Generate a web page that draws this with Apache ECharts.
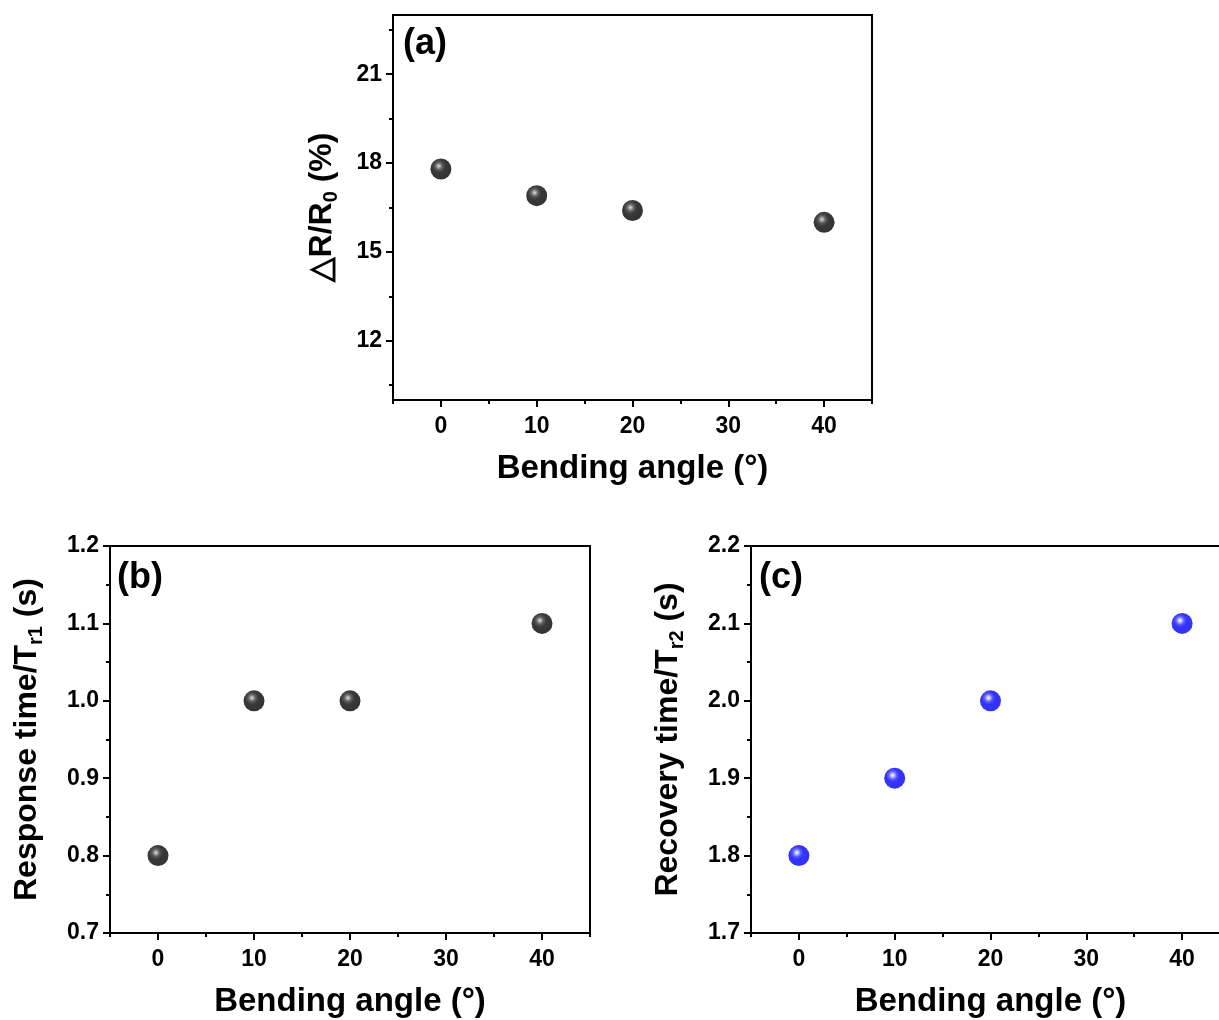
<!DOCTYPE html>
<html>
<head>
<meta charset="utf-8">
<script src="https://cdn.jsdelivr.net/npm/echarts@6/dist/echarts.min.js"></script>
<style>
html, body { margin: 0; padding: 0; background: #fff; }
#main { width: 1219px; height: 1020px; }
</style>
</head>
<body>
<div id="main"></div>
<script>
// data
var angles = [0, 10, 20, 40];
var sensitivity = [17.8, 16.9, 16.4, 16.0];     // (a) ΔR/R0 (%)
var responseTime = [0.8, 1.0, 1.0, 1.1];        // (b) Tr1 (s)
var recoveryTime = [1.8, 1.9, 2.0, 2.1];        // (c) Tr2 (s)

var xMajor = [0, 10, 20, 30, 40];
var xMinor = [-5, 5, 15, 25, 35, 45];
var yMajorA = [12, 15, 18, 21];
var yMinorA = [10.5, 13.5, 16.5, 19.5, 22.5];
var yMajorB = [0.7, 0.8, 0.9, 1.0, 1.1, 1.2];
var yMinorB = [0.75, 0.85, 0.95, 1.05, 1.15];
var yMajorC = [1.7, 1.8, 1.9, 2.0, 2.1, 2.2];
var yMinorC = [1.75, 1.85, 1.95, 2.05, 2.15];

var myChart = echarts.init(document.getElementById('main'));
var font = '"Liberation Sans", Arial, sans-serif';

function pairs(ys) {
    return angles.map(function (a, i) { return [a, ys[i]]; });
}

var blackBall = {
    type: 'radial', x: 0.4, y: 0.36, r: 0.64,
    colorStops: [
        {offset: 0, color: '#dcdcdc'},
        {offset: 0.1, color: '#999999'},
        {offset: 0.28, color: '#333333'},
        {offset: 0.5, color: '#070707'},
        {offset: 1, color: '#000000'}
    ]
};
var blueBall = {
    type: 'radial', x: 0.4, y: 0.36, r: 0.64,
    colorStops: [
        {offset: 0, color: '#ffffff'},
        {offset: 0.1, color: '#c4c4ff'},
        {offset: 0.3, color: '#3535ff'},
        {offset: 0.5, color: '#0000ff'},
        {offset: 1, color: '#0000ee'}
    ]
};

var titleRich = {
    t: {fontSize: 32, fontWeight: 'bold', fontFamily: font, color: '#000'},
    s: {fontSize: 20, fontWeight: 'bold', fontFamily: font, color: '#000', padding: [18, 0, 0, 0]}
};

function xAxes(grid, name) {
    return [{
        type: 'value', gridIndex: grid, min: -5, max: 45, position: 'bottom',
        name: name, nameLocation: 'middle', nameGap: 52,
        nameTextStyle: {fontSize: 33, fontWeight: 'bold', fontFamily: font, color: '#000'},
        axisLine: {show: true, onZero: false, lineStyle: {color: '#000', width: 2}},
        axisTick: {show: true, length: 7, lineStyle: {color: '#000', width: 2}, customValues: xMajor},
        axisLabel: {show: true, fontSize: 23, fontWeight: 'bold', fontFamily: font, color: '#000', margin: 15, customValues: xMajor},
        splitLine: {show: false}
    }, {
        type: 'value', gridIndex: grid, min: -5, max: 45, position: 'bottom',
        axisLine: {show: false, onZero: false},
        axisTick: {show: true, length: 4, lineStyle: {color: '#000', width: 2}, customValues: xMinor},
        axisLabel: {show: false},
        splitLine: {show: false}
    }];
}

function yAxes(grid, min, max, major, minor, name, gap, digits) {
    return [{
        type: 'value', gridIndex: grid, min: min, max: max, position: 'left',
        name: name, nameLocation: 'middle', nameRotate: 90, nameGap: gap,
        nameTextStyle: {rich: titleRich},
        axisLine: {show: true, onZero: false, lineStyle: {color: '#000', width: 2}},
        axisTick: {show: true, length: 7, lineStyle: {color: '#000', width: 2}, customValues: major},
        axisLabel: {
            show: true, fontSize: 23, fontWeight: 'bold', fontFamily: font, color: '#000', margin: 11,
            customValues: major,
            formatter: function (v) { return v.toFixed(digits); }
        },
        splitLine: {show: false}
    }, {
        type: 'value', gridIndex: grid, min: min, max: max, position: 'left',
        axisLine: {show: false, onZero: false},
        axisTick: {show: true, length: 4, lineStyle: {color: '#000', width: 2}, customValues: minor},
        axisLabel: {show: false},
        splitLine: {show: false}
    }];
}

var gridStyle = {show: true, borderColor: '#000', borderWidth: 2, backgroundColor: '#fff', containLabel: false, outerBoundsMode: 'none'};

option = {
    backgroundColor: '#fff',
    animation: false,
    title: [
        {text: '(a)', left: 403, top: 26, padding: 0, textStyle: {fontSize: 36, fontWeight: 'bold', fontFamily: font, color: '#000'}},
        {text: '(b)', left: 117, top: 560, padding: 0, textStyle: {fontSize: 36, fontWeight: 'bold', fontFamily: font, color: '#000'}},
        {text: '(c)', left: 759, top: 560, padding: 0, textStyle: {fontSize: 36, fontWeight: 'bold', fontFamily: font, color: '#000'}}
    ],
    grid: [
        Object.assign({left: 393, top: 15, width: 479, height: 385}, gridStyle),
        Object.assign({left: 110, top: 546, width: 480, height: 387}, gridStyle),
        Object.assign({left: 751, top: 546, width: 479, height: 387}, gridStyle)
    ],
    xAxis: [].concat(
        xAxes(0, 'Bending angle (°)'),
        xAxes(1, 'Bending angle (°)'),
        xAxes(2, 'Bending angle (°)')
    ),
    yAxis: [].concat(
        yAxes(0, 10, 23, yMajorA, yMinorA, '{t|△R/R}{s|0}{t| (%)}', 52, 0),
        yAxes(1, 0.7, 1.2, yMajorB, yMinorB, '{t|Response time/T}{s|r1}{t| (s)}', 64, 1),
        yAxes(2, 1.7, 2.2, yMajorC, yMinorC, '{t|Recovery time/T}{s|r2}{t| (s)}', 64, 1)
    ),
    series: [
        {
            name: 'a', type: 'scatter', xAxisIndex: 0, yAxisIndex: 0,
            symbol: 'circle', symbolSize: 21,
            itemStyle: {color: blackBall},
            data: pairs(sensitivity)
        },
        {
            name: 'b', type: 'scatter', xAxisIndex: 2, yAxisIndex: 2,
            symbol: 'circle', symbolSize: 21,
            itemStyle: {color: blackBall},
            data: pairs(responseTime)
        },
        {
            name: 'c', type: 'scatter', xAxisIndex: 4, yAxisIndex: 4,
            symbol: 'circle', symbolSize: 21,
            itemStyle: {color: blueBall},
            data: pairs(recoveryTime)
        }
    ]
};
if (option && typeof option === "object") {
    myChart.setOption(option, true);
}
</script>
</body>
</html>
